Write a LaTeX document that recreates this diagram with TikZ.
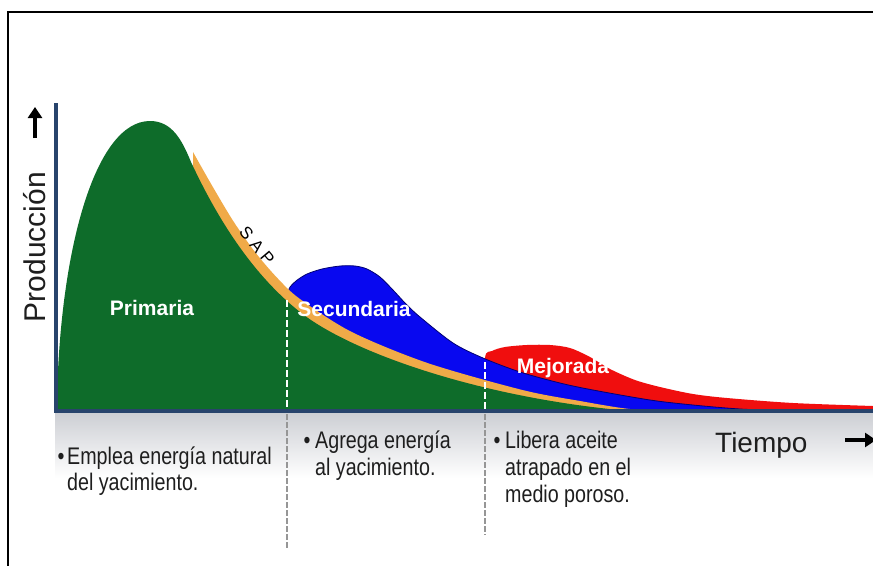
\documentclass[tikz,border=0pt]{standalone}
\usepackage{fontspec}
\setmainfont{Liberation Sans}
\newfontfamily\narrowfont[FakeStretch=0.82]{Liberation Sans}
\usetikzlibrary{arrows.meta}
\definecolor{cgreen}{RGB}{14,108,42}
\definecolor{cblue}{RGB}{8,8,240}
\definecolor{cred}{RGB}{240,14,14}
\definecolor{corange}{RGB}{240,170,72}
\definecolor{caxis}{RGB}{40,68,108}
\definecolor{ctext}{RGB}{30,30,30}
\definecolor{cdash}{RGB}{150,150,150}
\definecolor{cband}{RGB}{205,207,212}
\tikzset{
  phase/.style={text=white, font=\bfseries\fontsize{21}{24}\selectfont, inner sep=0pt},
  desc/.style={text=ctext, font=\narrowfont\fontsize{24}{26}\selectfont, anchor=base west, inner sep=0pt},
  bul/.style={text=ctext, font=\narrowfont\fontsize{24}{26}\selectfont, anchor=base, inner sep=0pt},
  whitedash/.style={white, line width=2.5pt, dash pattern=on 7pt off 3pt},
  graydash/.style={cdash, line width=2pt, dash pattern=on 6pt off 2pt},
  axisline/.style={caxis, line width=3.5pt},
  bigarrow/.style={line width=4pt, -{Triangle[width=14pt,length=11pt]}},
}
\begin{document}
\begin{tikzpicture}[x=1pt,y=-1pt]
\useasboundingbox (0,0) rectangle (873,566);
\fill[white] (0,0) rectangle (873,566);
% frame
\draw[line width=2pt] (873,12) -- (8,12) -- (8,566);
% band below axis
\shade[top color=cband, bottom color=white] (55,413) rectangle (873,478);
% red
\fill[cred] plot[smooth] coordinates {(485,411) (485,358) (492,351) (505,347) (527,345) (550,345) (570,348) (590,357) (610,369) (635,380) (660,387) (693,394) (727,398) (793,403) (873,406)} -- (873,411) -- cycle;
% blue
\fill[cblue, draw=blue!45!black, line width=0.8pt] plot[smooth] coordinates {(289,300) (289,289) (296,281) (307,274) (322,269) (340,266) (355,266) (367,269) (380,277) (393,290) (406,304) (420,317) (453,343) (483,358) (520,372) (560,383) (593,390) (650,400) (693,405) (740,409) (790,411)} -- (289,411) -- cycle;
% orange (SAP)
\fill[corange] plot[smooth] coordinates {(193,152) (211.7,185) (233.2,221) (255,252) (277.3,278) (300,299) (351.8,332) (427.5,363) (522.5,390) (580,401) (630,409) (680,411)} -- (193,411) -- cycle;
% green
\fill[cgreen] (57,411) -- (57,400) .. controls (60,250) and (95,121) .. (150,121)
  .. controls (172,121) and (182,140) .. (191,162)
  .. controls (225,235) and (262,282) .. (300,312)
  .. controls (350,352) and (480,398) .. (630,411) -- cycle;
% phase labels
\node[phase] (prim) at (152,308) {Primaria};
\node[phase] (sec) at (354,309) {Secundaria};
\node[phase] (mej) at (563,368) {Mejorada};
\node[text=black, font=\fontsize{17}{18}\selectfont, rotate=-50, inner sep=0pt] (sap) at (257,246) {S\hspace{5pt}A\hspace{5pt}P};
% boundaries
\coordinate (d1t) at (287,300);
\coordinate (d1m) at (287,409);
\coordinate (d1b) at (287,548);
\coordinate (d2t) at (485,362);
\coordinate (d2m) at (485,409);
\coordinate (d2b) at (485,535);
\draw[whitedash] (d1t) -- (d1m);
\draw[whitedash] (d2t) -- (d2m);
\draw[graydash] (287,414) -- (d1b);
\draw[graydash] (485,414) -- (d2b);
% axes
\coordinate (ytop) at (56,103);
\coordinate (xend) at (873,411);
\draw[axisline] (ytop) -- (56,412);
\draw[caxis, line width=4pt] (54,411) -- (xend);
% axis titles
\node[text=ctext, font=\fontsize{30}{32}\selectfont, rotate=90, inner sep=0pt] (prod) at (35,247) {Producción};
\coordinate (ua) at (35,138);
\coordinate (ub) at (35,107);
\draw[bigarrow] (ua) -- (ub);
\node[text=ctext, font=\fontsize{28}{30}\selectfont, anchor=base west, inner sep=0pt] (tiempo) at (715,452) {Tiempo};
\coordinate (ra) at (845,440);
\coordinate (rb) at (876,440);
\draw[bigarrow] (ra) -- (rb);
% descriptions
\node[bul] (b1) at (61,464) {•};
\node[desc] (t1a) at (67,464) {Emplea energía natural};
\node[desc] (t1b) at (67,490) {del yacimiento.};
\node[bul] (b2) at (307,448) {•};
\node[desc] (t2a) at (315,448) {Agrega energía};
\node[desc] (t2b) at (315,475) {al yacimiento.};
\node[bul] (b3) at (497,448) {•};
\node[desc] (t3a) at (505,448) {Libera aceite};
\node[desc] (t3b) at (505,475) {atrapado en el};
\node[desc] (t3c) at (505,502) {medio poroso.};
\end{tikzpicture}
\end{document}
